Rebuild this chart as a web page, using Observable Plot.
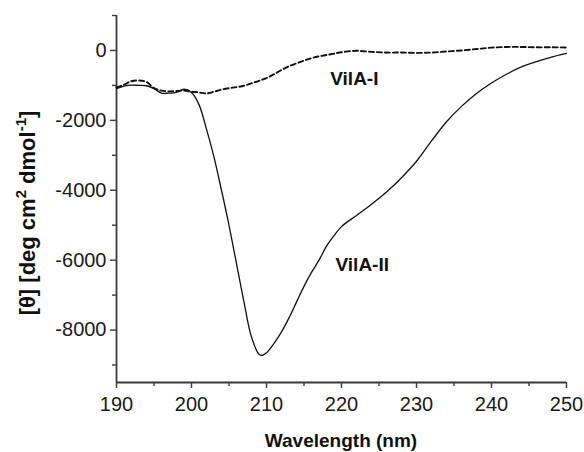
<!DOCTYPE html>
<html>
<head>
<meta charset="utf-8">
<script src="https://cdn.jsdelivr.net/npm/d3@7"></script>
<script src="https://cdn.jsdelivr.net/npm/@observablehq/plot@0.6"></script>
<style>
  html, body { margin: 0; padding: 0; background: #fff; }
  #chart svg { display: block; }
</style>
</head>
<body>
<div id="chart"></div>
<script>
// VilA-II (solid)
const wl2 = [190,191,192,193,194,195,196,197,198,199,200,201,202,203,204,205,206,207,208,209,209.5,210,211,212,213,214,215,216,217,218,219,220,222,224,226,228,230,232,234,236,238,240,242,244,246,248,250];
const theta2 = [-1090,-1020,-990,-1000,-1010,-1090,-1220,-1220,-1200,-1110,-1200,-1550,-2250,-3050,-4000,-5000,-6100,-7200,-8200,-8690,-8720,-8650,-8380,-8050,-7650,-7200,-6750,-6350,-6000,-5600,-5300,-5040,-4720,-4400,-4050,-3640,-3170,-2590,-2040,-1600,-1230,-930,-680,-470,-320,-190,-86];
// VilA-I (dashed)
const wl1 = [190,191,192,193,194,195,196,197,198,199,200,201,202,203,204,205,206,207,208,209,210,211,212,213,214,215,216,217,218,219,220,222,224,226,228,230,232,234,236,238,240,242,244,246,248,250];
const theta1 = [-1060,-980,-880,-860,-900,-1080,-1150,-1170,-1160,-1150,-1180,-1200,-1230,-1180,-1120,-1080,-1050,-1010,-940,-870,-790,-680,-560,-450,-370,-290,-220,-170,-130,-90,-50,-10,-40,-60,-60,-70,-60,-30,0,40,80,100,100,90,90,86];

const xMajor = [190,200,210,220,230,240,250];
const xMinor = [195,205,215,225,235,245];
const yMajor = [0,-2000,-4000,-6000,-8000];
const yMinor = [1000,-1000,-3000,-5000,-7000,-9000];

const seriesNames = ["VilA-I","VilA-II"];
const labelX = [218.5, 219.2];
const labelY = [-800, -6143];

const xTitle = "Wavelength (nm)";

const d2 = wl2.map((w,i)=>({w, t: theta2[i]}));
const d1 = wl1.map((w,i)=>({w, t: theta1[i]}));
const labels = seriesNames.map((s,i)=>({s, x: labelX[i], y: labelY[i]}));

const font = "'Liberation Sans', Arial, Helvetica, sans-serif";
const axisColor = "#3a3a3a";

const plot = Plot.plot({
  width: 584,
  height: 452,
  marginLeft: 116,
  marginRight: 18,
  marginTop: 15,
  marginBottom: 70,
  style: {fontFamily: font, background: "#fff", color: "#1a1a1a", overflow: "visible"},
  x: {domain: [190, 250]},
  y: {domain: [-9500, 1000]},
  marks: [
    Plot.axisX({ticks: xMajor, tickSize: 6, tickPadding: 8, fontSize: 20, label: null, tickFormat: d => String(d), stroke: axisColor, strokeWidth: 1.4}),
    Plot.axisX({ticks: xMinor, tickSize: 4, label: null, tickFormat: () => "", stroke: axisColor, strokeWidth: 1.4}),
    Plot.axisY({ticks: yMajor, tickSize: 6, tickPadding: 4, fontSize: 20, label: null, tickFormat: d => String(d), stroke: axisColor, strokeWidth: 1.4}),
    Plot.axisY({ticks: yMinor, tickSize: 4, label: null, tickFormat: () => "", stroke: axisColor, strokeWidth: 1.4}),
    Plot.ruleY([-9500], {stroke: axisColor, strokeWidth: 1.8}),
    Plot.ruleX([190], {stroke: axisColor, strokeWidth: 1.8}),
    Plot.line(d1, {x: "w", y: "t", curve: "catmull-rom", stroke: "#111", strokeWidth: 1.9, strokeDasharray: "5,3"}),
    Plot.line(d2, {x: "w", y: "t", curve: "catmull-rom", stroke: "#111", strokeWidth: 1.3}),
    Plot.text(labels, {x: "x", y: "y", text: "s", textAnchor: "start", fontSize: 19, fontWeight: "bold", fill: "#111"})
  ]
});

const svg = d3.select(plot);
const xs = plot.scale("x");
const xMid = (xs.apply(190) + xs.apply(250)) / 2;

svg.append("text")
  .attr("x", xMid).attr("y", 447)
  .attr("text-anchor", "middle")
  .attr("font-family", font).attr("font-size", 19).attr("font-weight", "bold").attr("fill", "#111")
  .text(xTitle);

const yMid = 213;
const yt = svg.append("text")
  .attr("transform", `translate(35,${yMid}) rotate(-90)`)
  .attr("text-anchor", "middle")
  .attr("font-family", font).attr("font-size", 22).attr("font-weight", "bold").attr("fill", "#111");
yt.append("tspan").text("[θ] [deg cm");
yt.append("tspan").attr("dy", -9).attr("font-size", 15).text("2");
yt.append("tspan").attr("dy", 9).text(" dmol");
yt.append("tspan").attr("dy", -9).attr("font-size", 15).text("-1");
yt.append("tspan").attr("dy", 9).text("]");

document.getElementById("chart").appendChild(plot);
</script>
</body>
</html>
